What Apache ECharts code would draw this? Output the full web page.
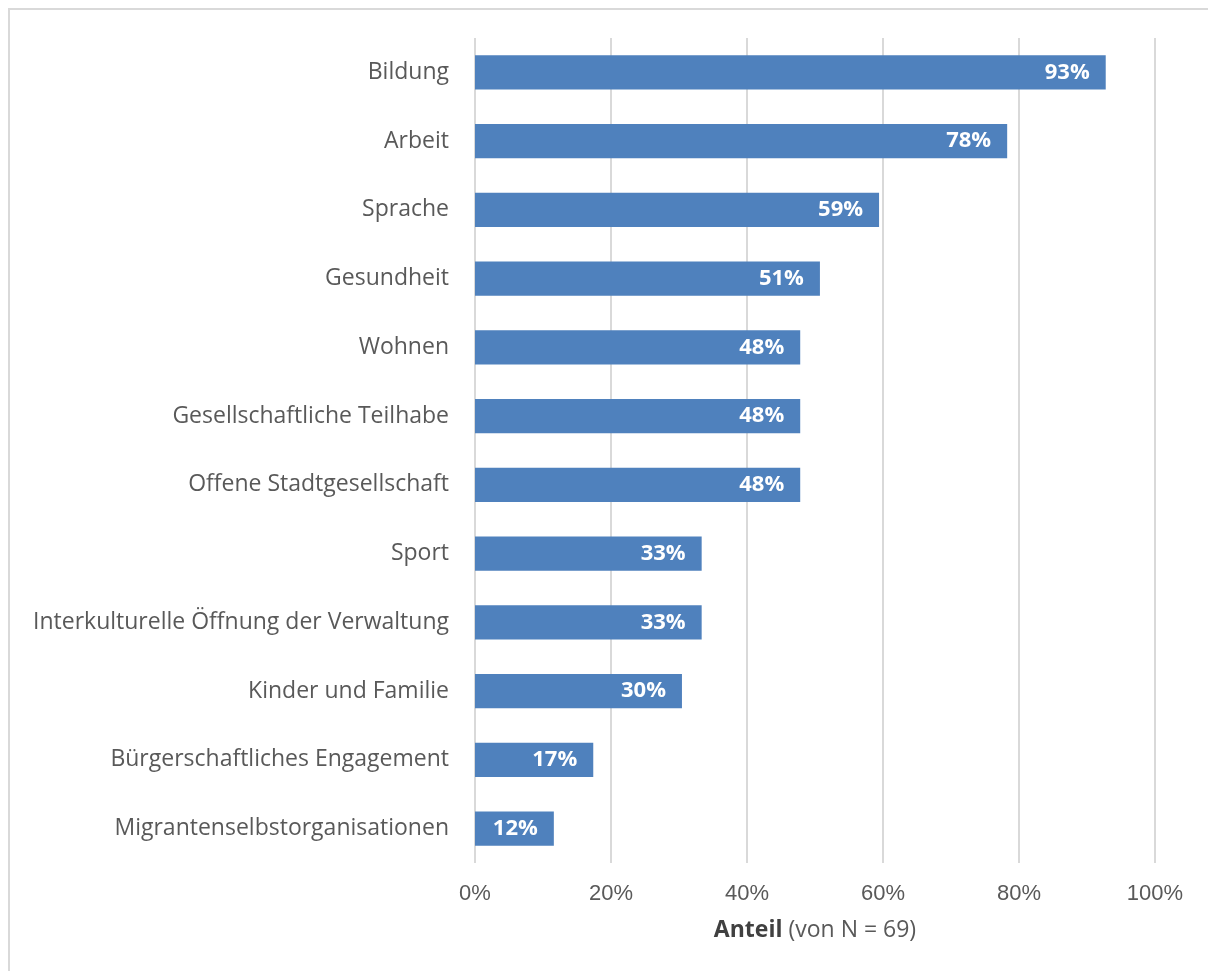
<!DOCTYPE html>
<html>
<head>
<meta charset="utf-8">
<title>Handlungsfelder</title>
<script src="https://cdn.jsdelivr.net/npm/echarts@6/dist/echarts.min.js"></script>
<style>
  html, body { margin: 0; padding: 0; background: #fff; }
  #frame { position: absolute; left: 8px; top: 8px; width: 1210px; height: 975px; border: 2px solid #d9d9d9; box-sizing: border-box; }
  #chart { position: absolute; left: 0; top: 0; width: 1208px; height: 971px; }
</style>
</head>
<body>
<div id="frame"></div>
<div id="chart"></div>
<script>
// Number of responding municipalities
const N = 69;

// Topic areas, top to bottom
const categories = [
  'Bildung',
  'Arbeit',
  'Sprache',
  'Gesundheit',
  'Wohnen',
  'Gesellschaftliche Teilhabe',
  'Offene Stadtgesellschaft',
  'Sport',
  'Interkulturelle Öffnung der Verwaltung',
  'Kinder und Familie',
  'Bürgerschaftliches Engagement',
  'Migrantenselbstorganisationen'
];

// Number of mentions per topic area
const counts = [64, 54, 41, 35, 33, 33, 33, 23, 23, 21, 12, 8];

// Axis ticks (percent)
const xTicks = [0, 20, 40, 60, 80, 100];

const shares = counts.map(c => c / N * 100);

const chart = echarts.init(document.getElementById('chart'));
chart.setOption({
  animation: false,
  grid: { left: 475, right: 53, top: 38, bottom: 108, containLabel: false },
  xAxis: {
    type: 'value',
    min: xTicks[0],
    max: xTicks[xTicks.length - 1],
    interval: xTicks[1] - xTicks[0],
    axisLine: { show: false },
    axisTick: { show: false },
    splitLine: { show: true, lineStyle: { color: '#d9d9d9', width: 2 } },
    axisLabel: {
      formatter: v => v + '%',
      color: '#595959',
      fontFamily: 'Liberation Sans',
      fontSize: 22,
      margin: 20
    },
    name: '{b|Anteil} (von N = ' + N + ')',
    nameLocation: 'middle',
    nameGap: 56,
    nameTextStyle: {
      color: '#595959',
      fontFamily: 'Open Sans',
      fontSize: 23,
      rich: {
        b: { fontWeight: 'bold', color: '#404040', fontFamily: 'Open Sans', fontSize: 23 }
      }
    }
  },
  yAxis: {
    type: 'category',
    inverse: true,
    data: categories,
    axisLine: { show: false },
    axisTick: { show: false },
    axisLabel: {
      color: '#595959',
      fontFamily: 'Open Sans',
      fontSize: 23,
      margin: 26
    }
  },
  series: [{
    type: 'bar',
    data: shares,
    barWidth: '50%',
    itemStyle: { color: '#4f81bd' },
    label: {
      show: true,
      position: 'insideRight',
      distance: 16,
      color: '#ffffff',
      fontFamily: 'Open Sans',
      fontWeight: 'bold',
      fontSize: 22,
      formatter: p => Math.round(p.value) + '%'
    }
  }]
});
</script>
</body>
</html>
